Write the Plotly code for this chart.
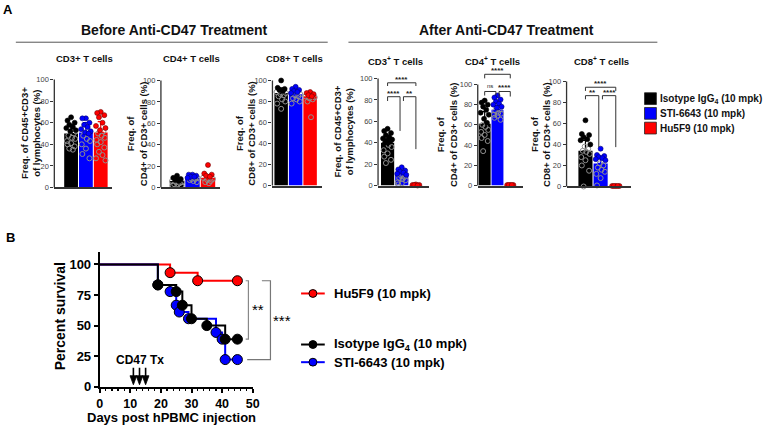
import plotly.graph_objects as go

W, H = 768, 433
FONT = "Arial, 'Liberation Sans', Helvetica, sans-serif"

# ---------------- data ----------------
group_names = ["Isotype IgG<sub>4</sub> (10 mpk)", "STI-6643 (10 mpk)", "Hu5F9 (10 mpk)"]
group_colors = ["#000000", "#0000ff", "#ff0000"]

panel_titles = ["CD3+ T cells", "CD4+ T cells", "CD8+ T cells",
                "CD3<sup>+</sup> T cells", "CD4<sup>+</sup> T cells", "CD8<sup>+</sup> T cells"]
ytitles = ["Freq. of CD45+CD3+<br>of lymphocytes (%)", "Freq. of<br>CD4+ of CD3+ cells (%)",
           "Freq. of<br>CD8+ of CD3+ cells (%)", "Freq. of CD45+CD3+<br>of lymphocytes (%)",
           "Freq. of<br>CD4+ of CD3+ cells (%)", "Freq. of<br>CD8+ of CD3+ cells (%)"]
ytick_vals = [0, 20, 40, 60, 80, 100]

# Before treatment
cd3_before_mean = [50, 51, 51]
cd3_before_sd = [8, 9, 10]
cd3_before_filled = [[65, 62, 60, 58, 56, 55, 53, 52], [64, 64, 60, 58, 56, 54, 52, 51, 50], [70, 69, 67, 65, 60, 57, 55, 53]]
cd3_before_open = [[50, 48, 46, 45, 43, 41, 40, 38, 36, 35], [48, 45, 43, 40, 36, 31, 27], [52, 50, 48, 46, 44, 42, 40, 37, 33, 30, 27, 25]]

cd4_before_mean = [6, 9, 9]
cd4_before_sd = [2.5, 2, 3]
cd4_before_filled = [[11, 9, 8, 7, 6], [12, 12, 11, 10, 10, 9], [21, 13, 12, 11, 10]]
cd4_before_open = [[6, 5, 5, 4, 3, 3, 2, 2], [9, 8, 8, 7, 6, 5], [9, 8, 7, 6, 5, 4]]

cd8_before_mean = [88, 87, 85]
cd8_before_sd = [5, 4, 4]
cd8_before_filled = [[100, 93, 92, 91, 90], [94, 92, 91, 90, 89, 88], [89, 88, 87, 86, 85]]
cd8_before_open = [[89, 88, 87, 86, 85, 82, 80, 78, 73], [87, 86, 85, 83, 82, 80, 78], [85, 84, 83, 82, 80, 65]]

# After treatment
cd3_after_mean = [40, 10, 0.5]
cd3_after_sd = [7, 4, 0.5]
cd3_after_filled = [[53, 51, 49, 47, 45, 44, 43, 42, 41, 40], [17, 15, 14, 13, 12, 11, 10], [1, 0.5, 0.5, 0.5, 0]]
cd3_after_open = [[38, 36, 33, 30, 27, 24, 21], [9, 8, 7, 6, 5, 3, 2, 1], []]

cd4_after_mean = [61, 75, 0.5]
cd4_after_sd = [12, 4, 0.3]
cd4_after_filled = [[84, 82, 80, 78, 75, 72, 70, 66, 62], [89, 87, 85, 83, 81, 80, 78, 77], [0.5, 0.5, 0.5, 0.5, 0.5]]
cd4_after_open = [[60, 58, 55, 53, 50, 47, 44, 34], [75, 74, 72, 71, 70, 69, 67, 65], []]

cd8_after_mean = [34, 22, 0.5]
cd8_after_sd = [10, 7, 0.3]
cd8_after_filled = [[63, 50, 49, 47, 45, 44, 40], [36, 30, 29, 28, 27, 26, 25], [0.5, 0.5, 0.5, 0.5, 0.5]]
cd8_after_open = [[38, 36, 34, 33, 31, 28, 25, 20, 15, 0], [22, 20, 18, 16, 14, 12, 8, 1], []]

panel_data = [
    (cd3_before_mean, cd3_before_sd, cd3_before_filled, cd3_before_open),
    (cd4_before_mean, cd4_before_sd, cd4_before_filled, cd4_before_open),
    (cd8_before_mean, cd8_before_sd, cd8_before_filled, cd8_before_open),
    (cd3_after_mean, cd3_after_sd, cd3_after_filled, cd3_after_open),
    (cd4_after_mean, cd4_after_sd, cd4_after_filled, cd4_after_open),
    (cd8_after_mean, cd8_after_sd, cd8_after_filled, cd8_after_open),
]

# significance labels (after panels): top (iso vs Hu5F9), iso vs STI, STI vs Hu5F9
sig_cd3 = ["****", "****", "**"]
sig_cd4 = ["****", "ns", "****"]
sig_cd8 = ["****", "**", "****"]

# Survival (panel B)
days_iso = [0, 19, 25, 27, 30, 35, 41, 45]
surv_iso = [100, 83.3, 77.8, 66.7, 55.6, 50.0, 38.9, 38.9]
days_sti = [0, 19, 23, 25, 26, 29, 38, 40, 41, 45]
surv_sti = [100, 83.3, 77.8, 66.7, 61.1, 55.6, 44.4, 38.9, 22.2, 22.2]
days_hu = [0, 23, 32, 45]
surv_hu = [100, 93.3, 86.7, 86.7]
treatment_days = [11, 13, 15]
surv_sig = ["**", "***"]

# ---------------- layout helpers ----------------
def px(x):
    return x / W


def py(y):
    return 1 - y / H


panels = [
    dict(axis=52, b0=62, b1=106, end=110, y0=191, y100=81, tx=83, ty=60, ytx=28),
    dict(axis=160, b0=169, b1=215, end=220, y0=191, y100=82, tx=191, ty=60, ytx=136),
    dict(axis=273, b0=275, b1=318, end=323, y0=189, y100=82, tx=295, ty=60, ytx=246),
    dict(axis=380, b0=383, b1=425, end=432, y0=189, y100=80, tx=398, ty=62, ytx=344),
    dict(axis=481, b0=482, b1=520, end=527, y0=189, y100=86, tx=496, ty=62, ytx=450),
    dict(axis=571, b0=583, b1=628, end=636, y0=190, y100=83, tx=606, ty=62, ytx=545),
]
brackets = {
    3: dict(top=96, toplegs=(93, 93), sec=83, p01=(79, 51), p12=(79, 34)),
    4: dict(top=110, toplegs=(106, 106), sec=93, p01=(89, 89), p12=(88, 88)),
    5: dict(top=94.5, toplegs=(91, 91), sec=86.5, p01=(83, 37.5), p12=(83, 37.5)),
}
sig_sets = {3: sig_cd3, 4: sig_cd4, 5: sig_cd8}

YT = 125
BW = 0.93
jit = [0.0, -0.24, 0.24, -0.12, 0.12, -0.32, 0.32, -0.05, 0.18, -0.18, 0.06, 0.28, -0.28]

fig = go.Figure()
shapes, annots = [], []
layout_axes = {}

for i, (p, (mean, sd, filled, opn)) in enumerate(zip(panels, panel_data)):
    k = '' if i == 0 else str(i + 1)
    xa, ya = 'x' + k, 'y' + k
    ppu_y = (p['y0'] - p['y100']) / 100
    top_px = p['y0'] - YT * ppu_y
    ppu_x = (p['b1'] - p['b0']) / (2 + BW)
    xr0 = -BW / 2 - (p['b0'] - p['axis']) / ppu_x
    xr1 = 2 + BW / 2 + (p['end'] - p['b1']) / ppu_x
    layout_axes['xaxis' + k] = dict(domain=[px(p['axis']), px(p['end'])], range=[xr0, xr1], anchor=ya,
                                    showline=True, linecolor='#333', linewidth=2, showticklabels=False,
                                    ticks='', showgrid=False, zeroline=False, fixedrange=True)
    layout_axes['yaxis' + k] = dict(domain=[py(p['y0']), py(top_px)], range=[0, YT], anchor=xa,
                                    tickvals=ytick_vals, ticks='outside', ticklen=3, tickwidth=1,
                                    tickcolor='#333', showline=False, showgrid=False, zeroline=False,
                                    tickfont=dict(family=FONT, size=7.5, color='#444'))
    shapes.append(dict(type='line', xref=xa + ' domain', yref=ya + ' domain', x0=0, x1=0, y0=0,
                       y1=100 / YT, line=dict(color='#333', width=1.3)))
    for g in range(3):
        fig.add_trace(go.Bar(x=[g], y=[mean[g]], width=BW, xaxis=xa, yaxis=ya,
                             marker=dict(color=group_colors[g], line=dict(width=0)),
                             error_y=dict(type='data', array=[sd[g]], arrayminus=[0], symmetric=False,
                                          color=group_colors[g], thickness=1.2, width=3),
                             showlegend=False, hoverinfo='skip'))
    for g in range(3):
        allpts = [(v, 'f') for v in filled[g]] + [(v, 'o') for v in opn[g]]
        order = sorted(range(len(allpts)), key=lambda j: -allpts[j][0])
        xs_f, ys_f, xs_o, ys_o = [], [], [], []
        for r, j in enumerate(order):
            v, kind = allpts[j]
            xx = g + jit[r % len(jit)]
            if kind == 'f':
                xs_f.append(xx); ys_f.append(v)
            else:
                xs_o.append(xx); ys_o.append(v)
        edge = ['#000000', '#00006e', '#6e0000'][g]
        fig.add_trace(go.Scatter(x=xs_o, y=ys_o, mode='markers', xaxis=xa, yaxis=ya, cliponaxis=False,
                                 marker=dict(symbol='circle-open', size=5, color='#8f8f8f', line=dict(width=1)),
                                 showlegend=False, hoverinfo='skip'))
        fig.add_trace(go.Scatter(x=xs_f, y=ys_f, mode='markers', xaxis=xa, yaxis=ya, cliponaxis=False,
                                 marker=dict(size=5, color=group_colors[g], line=dict(width=0.6, color=edge)),
                                 showlegend=False, hoverinfo='skip'))
    annots.append(dict(x=px(p['tx']), y=py(p['ty']), xref='paper', yref='paper', text='<b>%s</b>' % panel_titles[i],
                       showarrow=False, font=dict(family=FONT, size=9.5, color='#111'), xanchor='center', yanchor='middle'))
    annots.append(dict(x=px(p['ytx']), y=py(p['y0'] - 50 * ppu_y), xref='paper', yref='paper',
                       text='<b>%s</b>' % ytitles[i], textangle=-90, showarrow=False,
                       font=dict(family=FONT, size=9.5, color='#111'), xanchor='center', yanchor='middle'))
    if i in brackets:
        b = brackets[i]
        sigs = sig_sets[i]
        segs = [(0, 2, b['top'], b['toplegs'], sigs[0]),
                (0, 1 - 0.12, b['sec'], b['p01'], sigs[1]),
                (1 + 0.12, 2, b['sec'], b['p12'], sigs[2])]
        for (xa0, xa1, yy, legs, lab) in segs:
            shapes.append(dict(type='path', xref=xa, yref=ya,
                               path='M %f,%f L %f,%f L %f,%f L %f,%f' % (xa0, legs[0], xa0, yy, xa1, yy, xa1, legs[1]),
                               line=dict(color='#333', width=1)))
            annots.append(dict(x=(xa0 + xa1) / 2, y=yy, xref=xa, yref=ya, text=lab if lab == 'ns' else '<b>%s</b>' % lab,
                               showarrow=False, yanchor='bottom', yshift=-3 if lab != 'ns' else 0,
                               font=dict(family=FONT, size=8 if lab != 'ns' else 6, color='#222')))

# headings
annots.append(dict(x=px(5), y=py(9.5), xref='paper', yref='paper', text='<b>A</b>', showarrow=False,
                   font=dict(family=FONT, size=13, color='#000'), xanchor='center', yanchor='middle'))
annots.append(dict(x=px(7.5), y=py(242), xref='paper', yref='paper', text='<b>B</b>', showarrow=False,
                   font=dict(family=FONT, size=13, color='#000'), xanchor='center', yanchor='middle'))
annots.append(dict(x=px(174), y=py(31), xref='paper', yref='paper', text='<b>Before Anti-CD47 Treatment</b>',
                   showarrow=False, font=dict(family=FONT, size=14, color='#111'), xanchor='center', yanchor='middle'))
annots.append(dict(x=px(510), y=py(31), xref='paper', yref='paper', text='<b>After Anti-CD47 Treatment</b>',
                   showarrow=False, font=dict(family=FONT, size=14, color='#111'), xanchor='center', yanchor='middle'))
shapes.append(dict(type='line', xref='paper', yref='paper', x0=px(13), x1=px(329), y0=py(43), y1=py(43),
                   line=dict(color='#555', width=1)))
shapes.append(dict(type='line', xref='paper', yref='paper', x0=px(350), x1=px(663), y0=py(43), y1=py(43),
                   line=dict(color='#555', width=1)))

# legend A
for g, yc in enumerate([100.5, 115.5, 130.5]):
    shapes.append(dict(type='rect', xref='paper', yref='paper', x0=px(650), x1=px(662), y0=py(yc + 6), y1=py(yc - 6),
                       fillcolor=group_colors[g], line=dict(color='#222', width=0.8)))
    annots.append(dict(x=px(664), y=py(yc), xref='paper', yref='paper', text='<b>%s</b>' % group_names[g],
                       showarrow=False, xanchor='left', yanchor='middle', font=dict(family=FONT, size=10, color='#111')))

# ---------------- panel B ----------------
XB, YB = [0, 50], [0, 110]
layout_axes['xaxis7'] = dict(domain=[px(98), px(253)], range=XB, anchor='y7', showline=True, linecolor='#000',
                             linewidth=2, ticks='outside', ticklen=4, tickwidth=2, tickcolor='#000',
                             tickmode='linear', tick0=0, dtick=10, showgrid=False, zeroline=False,
                             minor=dict(ticks='outside', ticklen=2.5, tickwidth=1.2, tickcolor='#000', dtick=2, tick0=0),
                             tickfont=dict(family=FONT, size=12.5, color='#000', weight='bold'))
layout_axes['yaxis7'] = dict(domain=[py(394), py(257)], range=YB, anchor='x7', showline=True, linecolor='#000',
                             linewidth=2, ticks='outside', ticklen=4, tickwidth=2, tickcolor='#000',
                             tickvals=[0, 25, 50, 75, 100], showgrid=False, zeroline=False,
                             tickfont=dict(family=FONT, size=13, color='#000', weight='bold'))

for days, surv, col in [(days_hu, surv_hu, group_colors[2]), (days_sti, surv_sti, group_colors[1]),
                        (days_iso, surv_iso, group_colors[0])]:
    fig.add_trace(go.Scatter(x=days, y=surv, mode='lines', line=dict(shape='hv', color=col, width=2),
                             xaxis='x7', yaxis='y7', showlegend=False, hoverinfo='skip', cliponaxis=False))
for days, surv, col in [(days_hu, surv_hu, group_colors[2]), (days_sti, surv_sti, group_colors[1]),
                        (days_iso, surv_iso, group_colors[0])]:
    fig.add_trace(go.Scatter(x=days[1:], y=surv[1:], mode='markers',
                             marker=dict(size=10, color=col, line=dict(color='#000', width=1)),
                             xaxis='x7', yaxis='y7', showlegend=False, hoverinfo='skip', cliponaxis=False))


def bx(d):
    return (d - XB[0]) / (XB[1] - XB[0])


def by(v):
    return (v - YB[0]) / (YB[1] - YB[0])


# significance brackets in B
top_v, iso_v, sti_v = surv_hu[-1], surv_iso[-1], surv_sti[-1]
shapes.append(dict(type='path', xref='x7 domain', yref='y7 domain',
                   path='M %f,%f L %f,%f L %f,%f L %f,%f' % (bx(47.7), by(top_v), bx(48.6), by(top_v),
                                                             bx(48.6), by(iso_v), bx(47.7), by(iso_v)),
                   line=dict(color='#888', width=1.2)))
shapes.append(dict(type='path', xref='x7 domain', yref='y7 domain',
                   path='M %f,%f L %f,%f L %f,%f L %f,%f' % (bx(53.0), by(top_v), bx(55.8), by(top_v),
                                                             bx(55.8), by(sti_v), bx(48.2), by(sti_v)),
                   line=dict(color='#777', width=1.2)))
annots.append(dict(x=bx(51.7), y=by((top_v + iso_v) / 2), xref='x7 domain', yref='y7 domain', text=surv_sig[0],
                   showarrow=False, font=dict(family=FONT, size=15, color='#000'), xanchor='center', yanchor='middle'))
annots.append(dict(x=bx(59.7), y=by((top_v + sti_v) / 2), xref='x7 domain', yref='y7 domain', text=surv_sig[1],
                   showarrow=False, font=dict(family=FONT, size=15, color='#000'), xanchor='center', yanchor='middle'))

# treatment arrows (shaft + head)
for d in treatment_days:
    shapes.append(dict(type='line', xref='x7', yref='y7', x0=d, x1=d, y0=8, y1=15.5,
                       line=dict(color='#000', width=1.6)))
    shapes.append(dict(type='path', xref='x7', yref='y7',
                       path='M %f,%f L %f,%f L %f,%f Z' % (d - 1.1, 9.0, d + 1.1, 9.0, d, 1.6),
                       fillcolor='#000', line=dict(color='#000', width=0.8)))
annots.append(dict(x=sum(treatment_days) / len(treatment_days), y=21.5, xref='x7', yref='y7', text='<b>CD47 Tx</b>',
                   showarrow=False, font=dict(family=FONT, size=12, color='#000'), xanchor='center', yanchor='middle'))

# axis titles B
annots.append(dict(x=px(58), y=py(322), xref='paper', yref='paper', text='<b>Percent survival</b>', textangle=-90,
                   showarrow=False, font=dict(family=FONT, size=14, color='#000'), xanchor='center', yanchor='middle'))
annots.append(dict(x=px(171), y=py(425.5), xref='paper', yref='paper', text='<b>Days post hPBMC injection</b>',
                   showarrow=False, font=dict(family=FONT, size=13, color='#000'), xanchor='center', yanchor='middle'))

# legend B
for name, col, yc in [(group_names[2], group_colors[2], 299), (group_names[0], group_colors[0], 351),
                      (group_names[1], group_colors[1], 369)]:
    shapes.append(dict(type='line', xref='paper', yref='paper', x0=px(302), x1=px(326), y0=py(yc), y1=py(yc),
                       line=dict(color=col, width=2)))
    shapes.append(dict(type='circle', xref='paper', yref='paper', x0=px(310), x1=px(318), y0=py(yc + 4), y1=py(yc - 4),
                       fillcolor=col, line=dict(color='#000', width=1)))
    annots.append(dict(x=px(333), y=py(yc), xref='paper', yref='paper', text='<b>%s</b>' % name, showarrow=False,
                       xanchor='left', yanchor='middle', font=dict(family=FONT, size=13, color='#000')))

fig.update_layout(width=W, height=H, margin=dict(l=0, r=0, t=0, b=0), paper_bgcolor='white', plot_bgcolor='white',
                  barmode='overlay', showlegend=False, shapes=shapes, annotations=annots,
                  font=dict(family=FONT), **layout_axes)

fig.write_html("out.html", config={'displayModeBar': False, 'staticPlot': True},
               post_script="document.body.style.margin='0px';document.body.style.overflow='hidden';")
